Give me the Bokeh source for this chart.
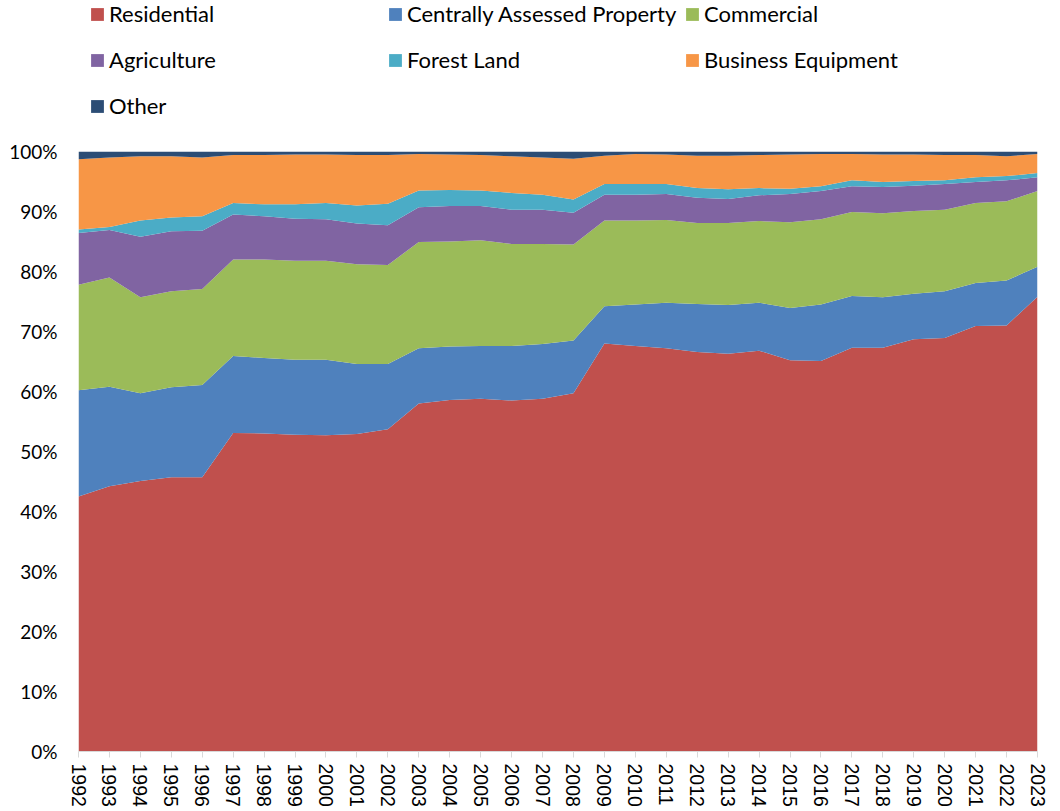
from bokeh.plotting import figure
from bokeh.layouts import column
from bokeh.models import (ColumnDataSource, Legend, LegendItem, FixedTicker,
                          PrintfTickFormatter, Range1d)
from bokeh.embed import file_html
from bokeh.resources import INLINE

years = list(range(1992, 2024))

residential = [42.5, 44.2, 45.1, 45.7, 45.7, 53.1, 53.0, 52.8, 52.7, 52.9, 53.7,
               58.0, 58.6, 58.8, 58.5, 58.8, 59.7, 68.0, 67.6, 67.2, 66.6, 66.3,
               66.8, 65.2, 65.1, 67.3, 67.3, 68.7, 68.9, 70.9, 71.0, 75.8]
central = [17.7, 16.6, 14.6, 15.0, 15.4, 12.8, 12.6, 12.5, 12.6, 11.7, 10.9,
           9.2, 8.9, 8.8, 9.1, 9.1, 8.8, 6.2, 6.9, 7.6, 8.0, 8.1,
           8.0, 8.7, 9.4, 8.6, 8.4, 7.6, 7.8, 7.2, 7.5, 5.0]
commercial = [17.6, 18.2, 16.0, 16.0, 16.0, 16.1, 16.4, 16.5, 16.5, 16.6, 16.5,
              17.7, 17.5, 17.6, 17.0, 16.7, 16.0, 14.3, 14.0, 13.8, 13.5, 13.7,
              13.6, 14.3, 14.2, 14.0, 14.0, 13.8, 13.6, 13.3, 13.2, 12.6]
agriculture = [8.6, 7.9, 10.1, 10.0, 9.7, 7.5, 7.2, 7.0, 6.9, 6.8, 6.6,
               5.8, 5.9, 5.7, 5.7, 5.7, 5.3, 4.3, 4.3, 4.3, 4.2, 4.0,
               4.3, 4.7, 4.7, 4.3, 4.4, 4.2, 4.3, 3.5, 3.5, 2.3]
forest = [0.6, 0.5, 2.7, 2.3, 2.4, 1.9, 2.0, 2.4, 2.7, 3.0, 3.6,
          2.8, 2.7, 2.6, 2.8, 2.5, 2.2, 1.8, 1.8, 1.7, 1.6, 1.6,
          1.2, 0.9, 0.8, 1.0, 0.8, 0.8, 0.6, 0.8, 0.7, 0.7]
business = [11.7, 11.6, 10.7, 10.2, 9.8, 8.0, 8.2, 8.3, 8.1, 8.4, 8.1,
            6.1, 5.9, 5.9, 6.1, 6.2, 6.8, 4.7, 5.0, 4.9, 5.4, 5.6,
            5.5, 5.7, 5.4, 4.4, 4.6, 4.4, 4.2, 3.7, 3.3, 3.2]
other = [1.3, 1.0, 0.8, 0.8, 1.0, 0.6, 0.6, 0.5, 0.5, 0.6, 0.6,
         0.4, 0.5, 0.6, 0.8, 1.0, 1.2, 0.7, 0.4, 0.5, 0.7, 0.7,
         0.6, 0.5, 0.4, 0.4, 0.5, 0.5, 0.6, 0.6, 0.8, 0.4]

series_keys = ["residential", "central", "commercial", "agriculture",
               "forest", "business", "other"]
series_labels = ["Residential", "Centrally Assessed Property", "Commercial",
                 "Agriculture", "Forest Land", "Business Equipment", "Other"]
series_colors = ["#C0504D", "#4F81BD", "#9BBB59", "#8064A2",
                 "#4BACC6", "#F79646", "#2C4D75"]
y_ticks = [0, 10, 20, 30, 40, 50, 60, 70, 80, 90, 100]

W = 1056
LEG_H = 120

source = ColumnDataSource(data=dict(
    year=years, residential=residential, central=central,
    commercial=commercial, agriculture=agriculture, forest=forest,
    business=business, other=other))

# ---- main chart ----
p = figure(width=W, height=690, output_backend="svg", toolbar_location=None,
           x_range=Range1d(years[0], years[-1]), y_range=Range1d(0, 100),
           min_border_left=78, min_border_right=19, min_border_top=31,
           min_border_bottom=59)
p.outline_line_color = None
p.background_fill_color = "white"
p.border_fill_color = "white"
p.xgrid.visible = False
p.ygrid.visible = False

p.varea_stack(stackers=series_keys, x="year", color=series_colors, source=source)

xa = p.xaxis[0]
xa.ticker = FixedTicker(ticks=years)
xa.major_label_orientation = "vertical"
xa.axis_line_color = "#D9D9D9"
xa.major_tick_line_color = "#D9D9D9"
xa.major_tick_out = 6
xa.major_tick_in = 0
xa.minor_tick_line_color = None
xa.major_label_text_font = "Liberation Sans"
xa.major_label_text_font_size = "19.5px"
xa.major_label_text_color = "#000000"
xa.major_label_standoff = 6

ya = p.yaxis[0]
ya.ticker = FixedTicker(ticks=y_ticks)
ya.formatter = PrintfTickFormatter(format="%d%%")
ya.axis_line_color = None
ya.major_tick_line_color = None
ya.major_tick_out = 0
ya.major_tick_in = 0
ya.minor_tick_line_color = None
ya.minor_tick_out = 0
ya.major_label_text_font = "Lato"
ya.major_label_text_font_size = "19px"
ya.major_label_text_color = "#000000"
ya.major_label_standoff = 21

# ---- legend strip (its frame is aligned with the chart frame by the column) ----
pl = figure(width=W, height=LEG_H, output_backend="svg", toolbar_location=None,
            x_axis_type=None, y_axis_type=None,
            x_range=Range1d(0, 1), y_range=Range1d(0, 1),
            min_border_left=0, min_border_right=0, min_border_top=0,
            min_border_bottom=0)
pl.outline_line_color = None
pl.xgrid.visible = False
pl.ygrid.visible = False
pl.background_fill_color = "white"
pl.border_fill_color = "white"

key_renderers = pl.varea_stack(stackers=series_keys, x="year",
                               color=series_colors, source=source)
for r in key_renderers:
    r.visible = False
items = [LegendItem(label=lab, renderers=[r])
         for lab, r in zip(series_labels, key_renderers)]
columns = [[items[0], items[3], items[6]],
           [items[1], items[4]],
           [items[2], items[5]]]
col_x = [11, 309, 606]
col_y = [1, 47, 47]
for its, vx, vy in zip(columns, col_x, col_y):
    lg = Legend(items=its, location=(vx, vy), orientation="vertical",
                glyph_width=16, glyph_height=16, label_standoff=4,
                spacing=19, padding=0, margin=0,
                label_text_font="Lato", label_text_font_size="22px",
                label_text_color="#000000", label_text_baseline="middle",
                border_line_color=None, background_fill_alpha=0,
                inactive_fill_alpha=0, click_policy="none")
    pl.add_layout(lg, "center")

layout = column(pl, p, spacing=0)
open("out.html", "w").write(file_html(layout, INLINE))
